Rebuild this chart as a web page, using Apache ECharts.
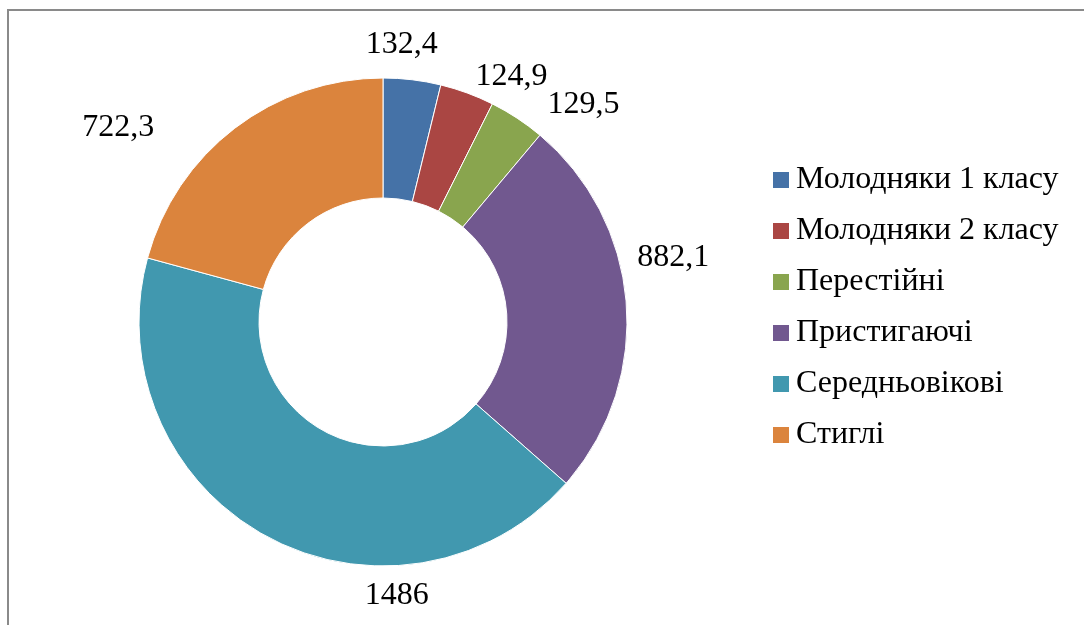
<!DOCTYPE html>
<html>
<head>
<meta charset="utf-8">
<script src="https://cdn.jsdelivr.net/npm/echarts@6/dist/echarts.min.js"></script>
<style>
    html, body {margin: 0; padding: 0; background: #fff;}
</style>
</head>
<body>
<div id="main" style="width: 1084px; height: 625px;"></div>
<script>
    // data
    const names = ['Молодняки 1 класу', 'Молодняки 2 класу', 'Перестійні', 'Пристигаючі', 'Середньовікові', 'Стиглі'];
    const values = [132.4, 124.9, 129.5, 882.1, 1486, 722.3];
    const labels = ['132,4', '124,9', '129,5', '882,1', '1486', '722,3'];

    // layout: labels were hand-placed in the original, nudge them from the library position
    const labelNudge = [[-15, 4], [31, 20], [45, 19], [8, -43], [148, 24], [-93, 30]];
    const colors = ['#4572A7', '#AA4643', '#89A54E', '#71588F', '#4198AF', '#DB843D'];

    const font = '"Liberation Serif", "Times New Roman", serif';
    const myChart = echarts.init(document.getElementById('main'));

    myChart.setOption({
        animation: false,
        color: colors,
        graphic: [{
            type: 'rect',
            shape: {x: 8, y: 10, width: 1200, height: 800},
            style: {fill: 'none', stroke: '#8a8a8a', lineWidth: 2},
            silent: true
        }],
        legend: {
            orient: 'vertical',
            left: 771,
            top: 164,
            padding: 0,
            icon: 'rect',
            itemWidth: 18,
            itemHeight: 18,
            itemGap: 19,
            data: names,
            textStyle: {
                fontFamily: font,
                fontSize: 32,
                lineHeight: 32,
                color: '#000',
                padding: [0, 0, 0, 1]
            }
        },
        series: [
            {
                type: 'pie',
                center: [383, 322],
                radius: [124, 244],
                startAngle: 90,
                clockwise: true,
                silent: true,
                label: {show: false},
                labelLine: {show: false},
                itemStyle: {borderColor: '#fff', borderWidth: 1},
                data: names.map((n, i) => ({name: n, value: values[i]}))
            },
            {
                // invisible ring that carries the value labels
                type: 'pie',
                center: [383, 322],
                radius: [279, 281],
                startAngle: 90,
                clockwise: true,
                silent: true,
                legendHoverLink: false,
                itemStyle: {color: 'rgba(0,0,0,0)'},
                label: {
                    show: true,
                    position: 'inside',
                    fontFamily: font,
                    fontSize: 32,
                    color: '#000',
                    formatter: p => labels[p.dataIndex]
                },
                labelLine: {show: false},
                labelLayout: p => ({dx: labelNudge[p.dataIndex][0], dy: labelNudge[p.dataIndex][1]}),
                data: names.map((n, i) => ({name: n, value: values[i]}))
            }
        ]
    });
</script>
</body>
</html>
